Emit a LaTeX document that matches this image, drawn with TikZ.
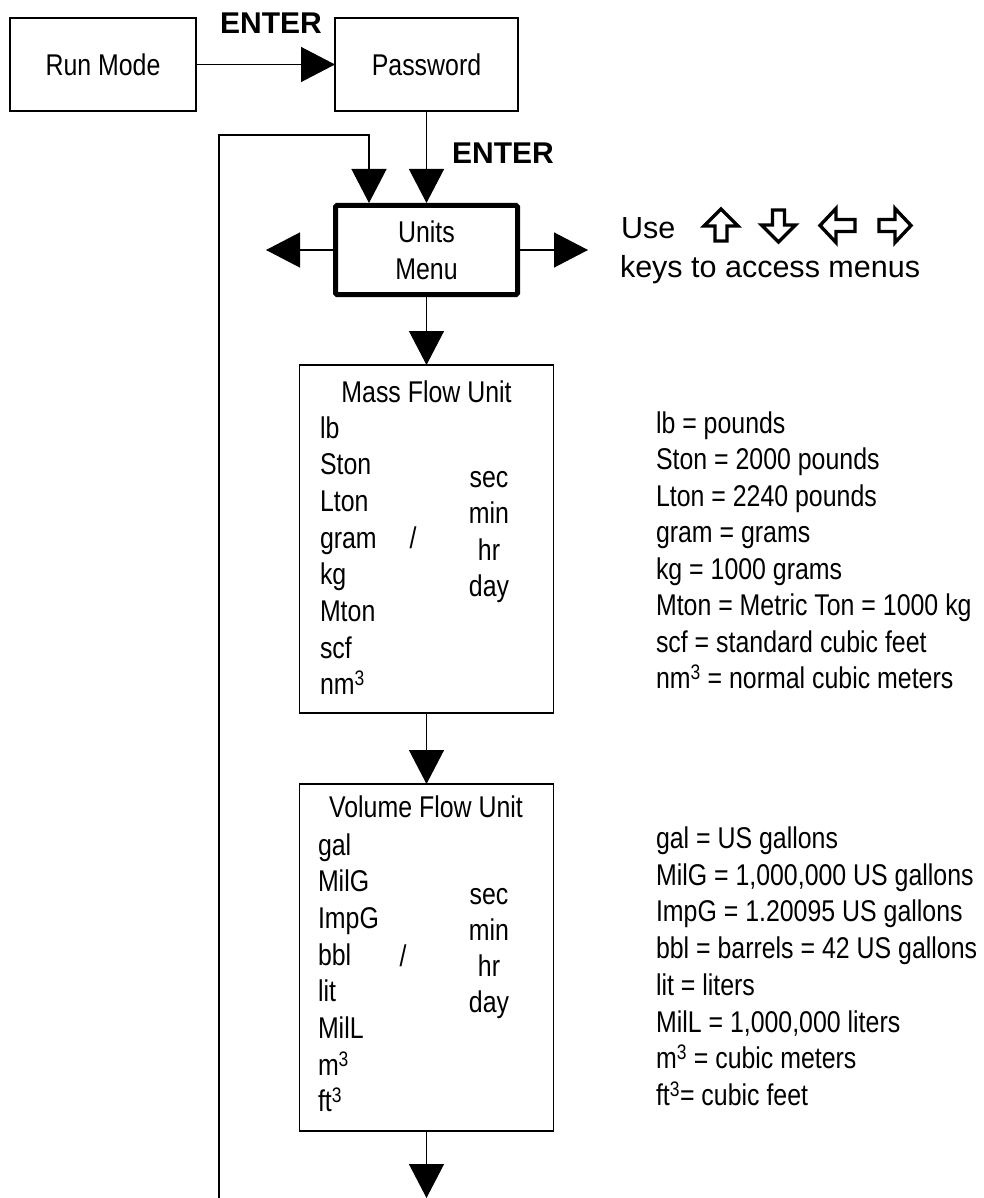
\documentclass[tikz,border=0pt]{standalone}
\usepackage{fontspec}
\setmainfont{Liberation Sans}
\newfontfamily\narrowfont{Liberation Sans}[FakeStretch=0.83]
\newfontfamily\widefont{Liberation Sans}
\usetikzlibrary{arrows.meta}
\begin{document}
\begin{tikzpicture}[x=1pt,y=-1pt,
  every node/.style={inner sep=0pt, outer sep=0pt},
  txt/.style={font=\narrowfont\fontsize{30}{37}\selectfont},
  wtxt/.style={font=\widefont\fontsize{30.5}{37}\selectfont},
  entertxt/.style={font=\widefont\bfseries\fontsize{30}{36}\selectfont},
  box/.style={draw, line width=1.3pt, fill=white, txt, align=center},
  thickbox/.style={draw, line width=5pt, rounded corners=1.5pt, fill=white, txt, align=center, outer sep=2.5pt},
  conn/.style={line width=1.3pt, -{Triangle[length=34pt,width=35pt]}},
  keyarrow/.style={line width=3.4pt, line join=miter}
]
\useasboundingbox (0,0) rectangle (983,1198);

% main boxes
\node[box, minimum width=186pt, minimum height=93pt] (run) at (103,64.5) {Run Mode};
\node[box, minimum width=183pt, minimum height=93pt] (pw) at (426.5,64.5) {Password};
\node[thickbox, minimum width=182pt, minimum height=89pt] (units) at (426.5,250) {Units\\Menu};
\node[box, minimum width=254pt, minimum height=348pt] (mass) at (426.5,539) {};
\node[box, minimum width=254pt, minimum height=347pt] (vol) at (426.5,957.5) {};

% labels
\node[entertxt] (enter1) at (271,23) {ENTER};
\node[entertxt] (enter2) at (503,153) {ENTER};

% free ends
\coordinate (ltip) at (266,250);
\coordinate (rtip) at (588,250);
\coordinate (loopstart) at (219,1198);
\coordinate (loopcorner) at (369,135);
\coordinate (endtip) at (426.5,1198);

% connectors
\draw[conn] (run) -- (pw);
\draw[conn] (pw.south) -- (units.north);
\draw[conn] (loopstart) |- (loopcorner) -- (loopcorner |- units.north);
\draw[conn] (units.west) -- (ltip);
\draw[conn] (units.east) -- (rtip);
\draw[conn] (units.south) -- (mass.north);
\draw[conn] (mass.south) -- (vol.north);
\draw[conn] (vol.south) -- (endtip);

% key hint
\node[wtxt, anchor=base west] (use) at (621,239) {Use};
\node[wtxt, anchor=base west] (keys) at (620,277) {keys to access menus};
\draw[keyarrow] (721,209) -- (738,226) -- (727,226) -- (727,241) -- (715,241) -- (715,226) -- (704,226) -- cycle;
\draw[keyarrow] (778.5,242) -- (795.5,225) -- (784.5,225) -- (784.5,210) -- (772.5,210) -- (772.5,225) -- (761.5,225) -- cycle;
\draw[keyarrow] (820,225.5) -- (836,208.5) -- (836,219.5) -- (855,219.5) -- (855,231.5) -- (836,231.5) -- (836,242.5) -- cycle;
\draw[keyarrow] (911,225.5) -- (895,208.5) -- (895,219.5) -- (879,219.5) -- (879,231.5) -- (895,231.5) -- (895,242.5) -- cycle;

% Mass flow box contents
\node[txt, anchor=base] (masstitle) at (426.5,402) {Mass Flow Unit};
\foreach \t [count=\i] in {lb,Ston,Lton,gram,kg,Mton,scf,{nm\textsuperscript{3}}}
  \node[txt, anchor=base west] (ml\i) at (320,{438+36.7*(\i-1)}) {\t};
\node[txt, anchor=base] (mslash) at (413,548) {/};
\foreach \t [count=\i] in {sec,min,hr,day}
  \node[txt, anchor=base] (mt\i) at (489,{487+36.5*(\i-1)}) {\t};

% Volume flow box contents
\node[txt, anchor=base] (voltitle) at (426,817) {Volume Flow Unit};
\foreach \t [count=\i] in {gal,MilG,ImpG,bbl,lit,MilL,{m\textsuperscript{3}},{ft\textsuperscript{3}}}
  \node[txt, anchor=base west] (vl\i) at (318,{855+36.7*(\i-1)}) {\t};
\node[txt, anchor=base] (vslash) at (403,966) {/};
\foreach \t [count=\i] in {sec,min,hr,day}
  \node[txt, anchor=base] (vt\i) at (489,{904+36.3*(\i-1)}) {\t};

% definitions
\foreach \t [count=\i] in {{lb = pounds},{Ston = 2000 pounds},{Lton = 2240 pounds},{gram = grams},{kg = 1000 grams},{Mton = Metric Ton = 1000 kg},{scf = standard cubic feet},{nm\textsuperscript{3} = normal cubic meters}}
  \node[txt, anchor=base west] (md\i) at (656,{433+36.5*(\i-1)}) {\t};
\foreach \t [count=\i] in {{gal = US gallons},{MilG = 1,000,000 US gallons},{ImpG = 1.20095 US gallons},{bbl = barrels = 42 US gallons},{lit = liters},{MilL = 1,000,000 liters},{m\textsuperscript{3} = cubic meters},{ft\textsuperscript{3}= cubic feet}}
  \node[txt, anchor=base west] (vd\i) at (656,{848.5+36.7*(\i-1)}) {\t};
\end{tikzpicture}
\end{document}
